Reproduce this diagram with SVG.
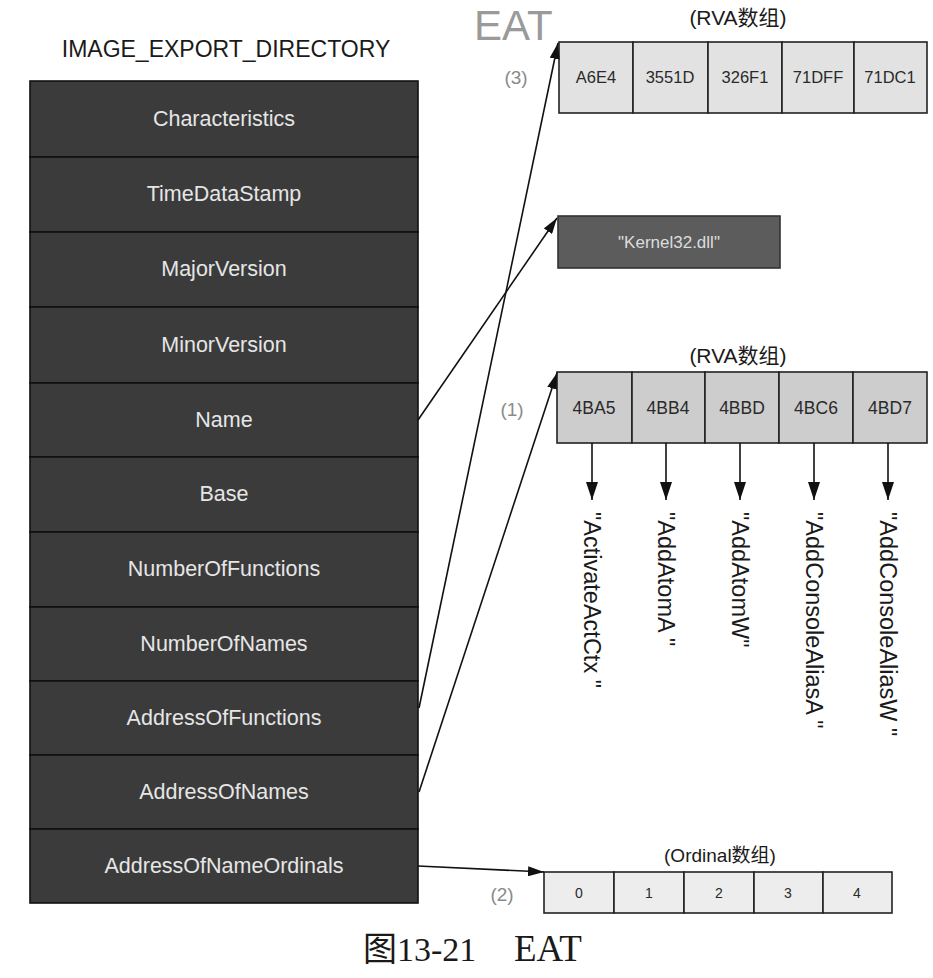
<svg xmlns="http://www.w3.org/2000/svg" width="933" height="978" viewBox="0 0 933 978">
<style>
.hdr{font-family:"Liberation Sans",Arial,sans-serif;font-size:23px;fill:#1a1a1a;text-anchor:middle}
.row{fill:#3b3b3b;stroke:#111;stroke-width:1.6}
.rowt{font-family:"Liberation Sans",Arial,sans-serif;font-size:21.5px;fill:#e6e6e6;text-anchor:middle}
.cellA{fill:#e2e2e2;stroke:#222;stroke-width:1.6}
.cellB{fill:#cdcdcd;stroke:#222;stroke-width:1.6}
.cellC{fill:#ededed;stroke:#222;stroke-width:1.6}
.ct{font-family:"Liberation Sans",Arial,sans-serif;fill:#2a2a2a;text-anchor:middle}
.lbl{font-family:"Liberation Sans","Noto Sans CJK SC",sans-serif;fill:#1a1a1a;text-anchor:middle}
.num{font-family:"Liberation Sans",Arial,sans-serif;font-size:19px;fill:#8a8a8a;text-anchor:middle}
.fn{font-family:"Liberation Sans",Arial,sans-serif;font-size:23.5px;fill:#1a1a1a}
.ln{stroke:#111;stroke-width:1.6;fill:none}
</style>
<defs>
<marker id="arr" viewBox="0 0 16 10" refX="16" refY="5" markerWidth="16" markerHeight="10" markerUnits="userSpaceOnUse" orient="auto">
<path d="M0,0 L16,5 L0,10 z" fill="#111"/>
</marker>
<marker id="arrD" viewBox="0 0 18 12" refX="18" refY="6" markerWidth="18" markerHeight="12" markerUnits="userSpaceOnUse" orient="auto">
<path d="M0,0 L18,6 L0,12 z" fill="#111"/>
</marker>
</defs>
<rect width="933" height="978" fill="#ffffff"/>

<text class="hdr" x="226" y="57">IMAGE_EXPORT_DIRECTORY</text>

<g id="export-directory">
<g id="row-characteristics"><rect class="row" x="30" y="81" width="388" height="76"/><text class="rowt" x="224" y="126">Characteristics</text></g>
<g id="row-timedatastamp"><rect class="row" x="30" y="157" width="388" height="75"/><text class="rowt" x="224" y="201">TimeDataStamp</text></g>
<g id="row-majorversion"><rect class="row" x="30" y="232" width="388" height="75"/><text class="rowt" x="224" y="276">MajorVersion</text></g>
<g id="row-minorversion"><rect class="row" x="30" y="307" width="388" height="76"/><text class="rowt" x="224" y="352">MinorVersion</text></g>
<g id="row-name"><rect class="row" x="30" y="383" width="388" height="74"/><text class="rowt" x="224" y="427">Name</text></g>
<g id="row-base"><rect class="row" x="30" y="457" width="388" height="75"/><text class="rowt" x="224" y="501">Base</text></g>
<g id="row-numberoffunctions"><rect class="row" x="30" y="532" width="388" height="75"/><text class="rowt" x="224" y="576">NumberOfFunctions</text></g>
<g id="row-numberofnames"><rect class="row" x="30" y="607" width="388" height="74"/><text class="rowt" x="224" y="651">NumberOfNames</text></g>
<g id="row-addressoffunctions"><rect class="row" x="30" y="681" width="388" height="74"/><text class="rowt" x="224" y="725">AddressOfFunctions</text></g>
<g id="row-addressofnames"><rect class="row" x="30" y="755" width="388" height="74"/><text class="rowt" x="224" y="799">AddressOfNames</text></g>
<g id="row-addressofnameordinals"><rect class="row" x="30" y="829" width="388" height="74"/><text class="rowt" x="224" y="873">AddressOfNameOrdinals</text></g>
</g>

<text x="474" y="40" font-family="Liberation Sans,Arial,sans-serif" font-size="42" fill="#9a9a9a">EAT</text>

<g id="eat-array">
<text class="lbl" x="738" y="25" font-size="21">(RVA数组)</text>
<text class="num" x="516" y="84">(3)</text>
<rect class="cellA" x="559" y="42" width="74" height="71"/>
<rect class="cellA" x="633" y="42" width="75" height="71"/>
<rect class="cellA" x="708" y="42" width="74" height="71"/>
<rect class="cellA" x="782" y="42" width="72" height="71"/>
<rect class="cellA" x="854" y="42" width="73" height="71"/>
<text class="ct" font-size="16.5" x="596" y="83">A6E4</text>
<text class="ct" font-size="16.5" x="670" y="83">3551D</text>
<text class="ct" font-size="16.5" x="745" y="83">326F1</text>
<text class="ct" font-size="16.5" x="818" y="83">71DFF</text>
<text class="ct" font-size="16.5" x="890" y="83">71DC1</text>
</g>

<g id="dll-name">
<rect x="558" y="216" width="222" height="52" fill="#5c5c5c" stroke="#333" stroke-width="1.6"/>
<text x="669" y="248" font-family="Liberation Sans,Arial,sans-serif" font-size="17" fill="#dcdcdc" text-anchor="middle">"Kernel32.dll"</text>
</g>

<g id="ent-array">
<text class="lbl" x="738" y="363" font-size="21">(RVA数组)</text>
<text class="num" x="512" y="416">(1)</text>
<rect class="cellB" x="557" y="372" width="75" height="71"/>
<rect class="cellB" x="632" y="372" width="73" height="71"/>
<rect class="cellB" x="705" y="372" width="74" height="71"/>
<rect class="cellB" x="779" y="372" width="74" height="71"/>
<rect class="cellB" x="853" y="372" width="74" height="71"/>
<text class="ct" font-size="17.5" x="594" y="414">4BA5</text>
<text class="ct" font-size="17.5" x="668" y="414">4BB4</text>
<text class="ct" font-size="17.5" x="742" y="414">4BBD</text>
<text class="ct" font-size="17.5" x="816" y="414">4BC6</text>
<text class="ct" font-size="17.5" x="890" y="414">4BD7</text>
</g>

<g id="fn-names">
<text class="fn" transform="translate(584,512) rotate(90)">"ActivateActCtx "</text>
<text class="fn" transform="translate(658,512) rotate(90)">"AddAtomA "</text>
<text class="fn" transform="translate(732,512) rotate(90)">"AddAtomW"</text>
<text class="fn" transform="translate(806,512) rotate(90)">"AddConsoleAliasA "</text>
<text class="fn" transform="translate(880,512) rotate(90)">"AddConsoleAliasW "</text>
</g>

<g id="eot-array">
<text class="lbl" x="720" y="862" font-size="19">(Ordinal数组)</text>
<text class="num" x="502" y="901">(2)</text>
<rect class="cellC" x="544" y="872" width="70" height="41"/>
<rect class="cellC" x="614" y="872" width="70" height="41"/>
<rect class="cellC" x="684" y="872" width="70" height="41"/>
<rect class="cellC" x="754" y="872" width="69" height="41"/>
<rect class="cellC" x="823" y="872" width="69" height="41"/>
<text class="ct" font-size="14" x="579" y="898">0</text>
<text class="ct" font-size="14" x="649" y="898">1</text>
<text class="ct" font-size="14" x="719" y="898">2</text>
<text class="ct" font-size="14" x="788" y="898">3</text>
<text class="ct" font-size="14" x="857" y="898">4</text>
</g>

<g id="connectors">
<line class="ln" x1="418" y1="420" x2="557" y2="218" marker-end="url(#arr)"/>
<line class="ln" x1="419" y1="708" x2="558" y2="43" marker-end="url(#arr)"/>
<line class="ln" x1="419" y1="792" x2="557" y2="373" marker-end="url(#arr)"/>
<line class="ln" x1="418" y1="866" x2="544" y2="872" marker-end="url(#arr)"/>
<line class="ln" x1="592" y1="443" x2="592" y2="500" marker-end="url(#arrD)"/>
<line class="ln" x1="666" y1="443" x2="666" y2="500" marker-end="url(#arrD)"/>
<line class="ln" x1="740" y1="443" x2="740" y2="500" marker-end="url(#arrD)"/>
<line class="ln" x1="814" y1="443" x2="814" y2="500" marker-end="url(#arrD)"/>
<line class="ln" x1="888" y1="443" x2="888" y2="500" marker-end="url(#arrD)"/>
</g>

<text x="363" y="961" font-family="Liberation Serif,Noto Sans CJK SC,serif" font-size="34" fill="#1a1a1a">图13-21</text>
<text x="514" y="961" font-family="Liberation Serif,serif" font-size="37" fill="#1a1a1a">EAT</text>
</svg>
